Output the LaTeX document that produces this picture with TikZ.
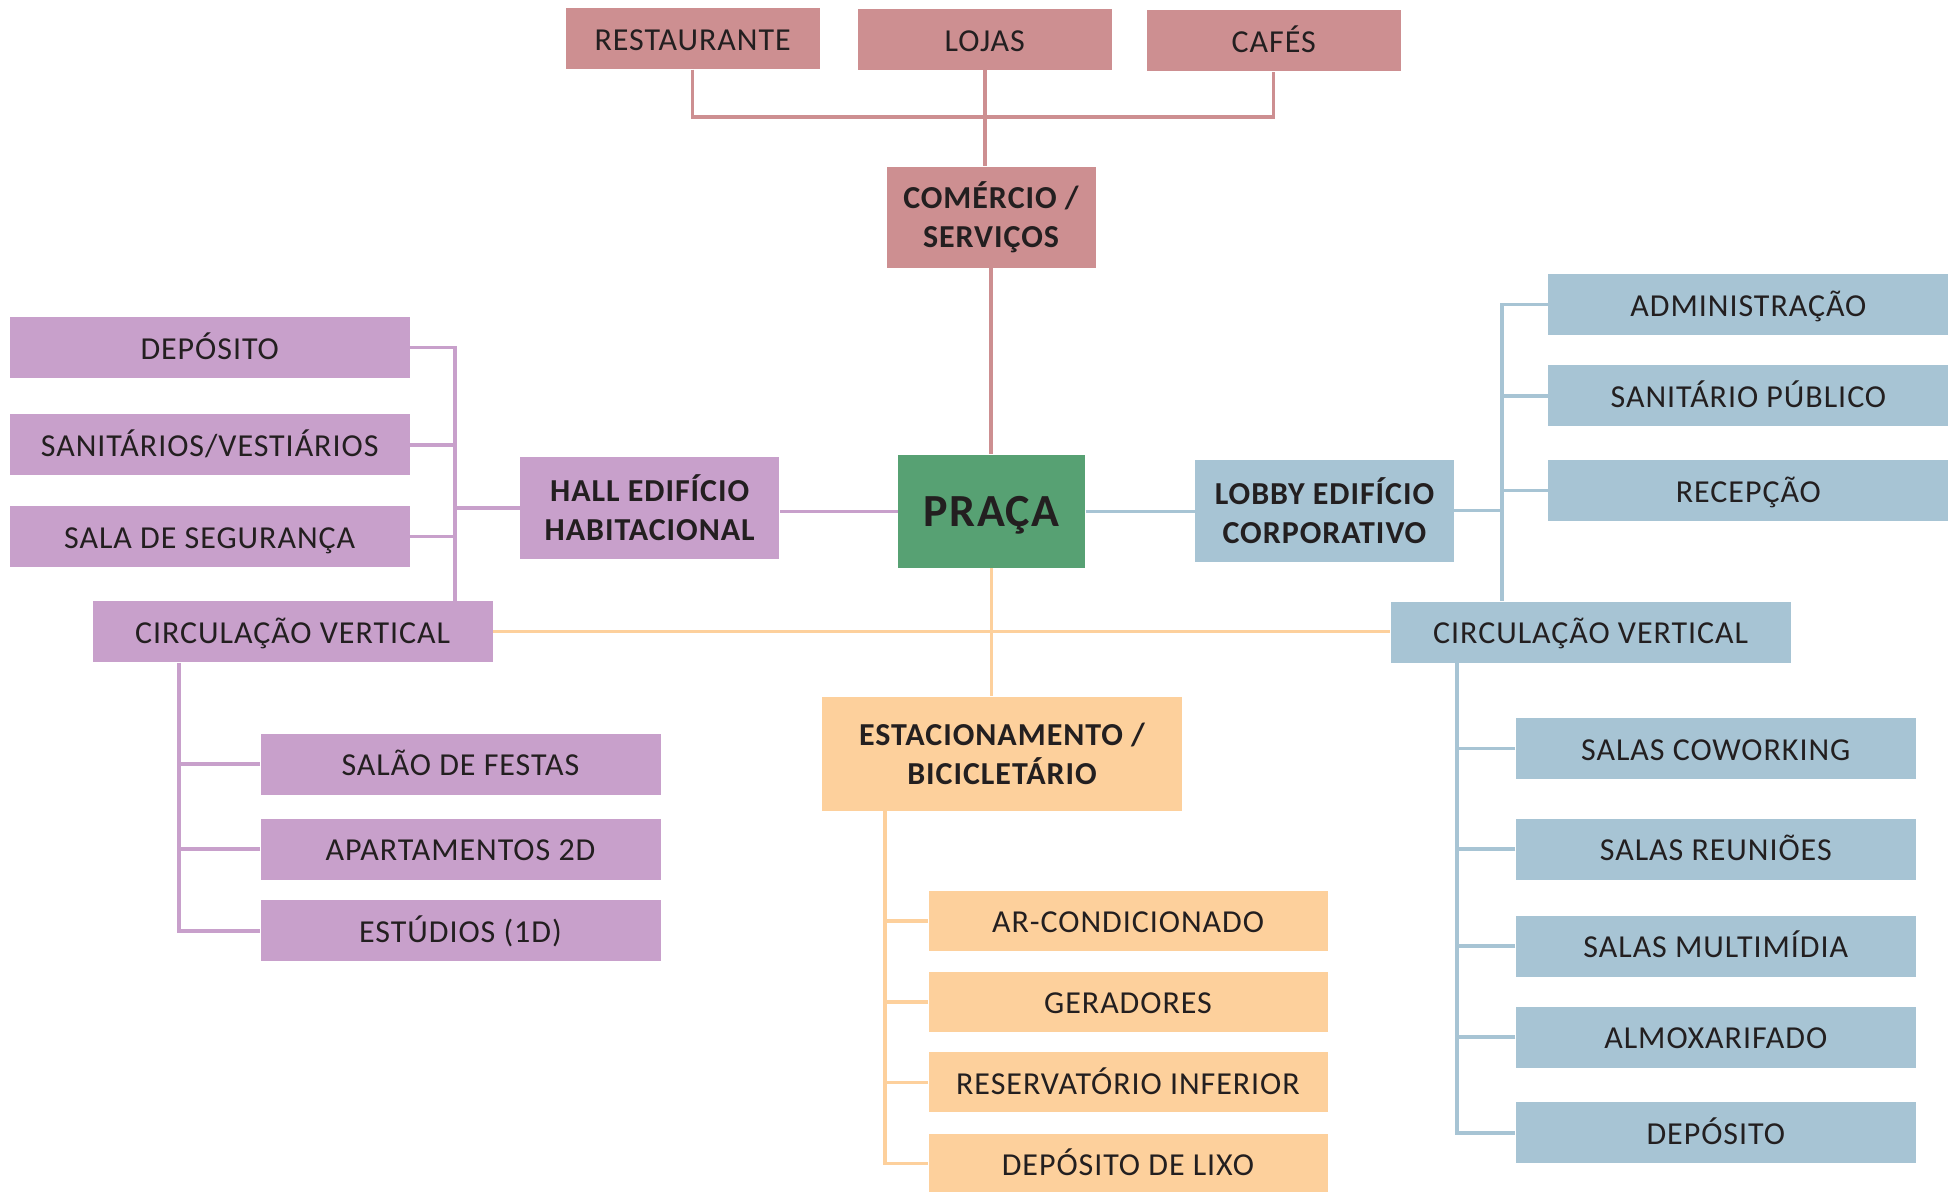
\documentclass[tikz,border=0pt]{standalone}
\usepackage{fontspec}
\setmainfont{Carlito}[LetterSpace=3]
\definecolor{pinkc}{HTML}{CD8F91}
\definecolor{purc}{HTML}{C8A0CB}
\definecolor{bluc}{HTML}{A7C4D4}
\definecolor{grnc}{HTML}{57A173}
\definecolor{orac}{HTML}{FDD09C}
\definecolor{txtc}{HTML}{231F20}
\begin{document}
\begin{tikzpicture}[x=0.5pt,y=-0.5pt,
  bx/.style={rectangle, inner sep=0pt, text=txtc, align=center,
    font=\fontsize{16}{19.5}\selectfont},
  one/.style={text height=11.8pt, text depth=0pt},
  bbx/.style={bx, font=\fontsize{16}{19.5}\selectfont\bfseries},
  small/.style={minimum width=200pt, minimum height=30.5pt},
  pkbox/.style={bx, one, fill=pinkc, minimum width=127pt, minimum height=30.5pt},
  pubox/.style={bx, one, fill=purc, small},
  blbox/.style={bx, one, fill=bluc, small},
  orbox/.style={bx, one, fill=orac, small},
  ln/.style={line width=1.7pt, line join=miter},
  pkline/.style={ln, draw=pinkc},
  puline/.style={ln, draw=purc},
  blline/.style={ln, draw=bluc},
  orline/.style={ln, draw=orac}]
\useasboundingbox (0,0) rectangle (1955,1192);

% top commerce
\node[pkbox] (rest) at (692.6,38.7) {RESTAURANTE};
\node[pkbox] (lojas) at (984.8,39.5) {LOJAS};
\node[pkbox] (cafes) at (1273.7,40.7) {CAFÉS};
\node[bbx, fill=pinkc, minimum width=104.5pt, minimum height=50.5pt] (comercio) at (991,217.3) {COMÉRCIO /\\SERVIÇOS};

% center
\node[bx, fill=grnc, minimum width=93.5pt, minimum height=56.5pt,
  text height=15.5pt, text depth=0pt,
  font=\fontsize{23}{26}\selectfont\bfseries] (praca) at (991.7,511.3) {PRAÇA};

% left: hall
\node[bbx, fill=purc, minimum width=129.5pt, minimum height=51pt] (hall) at (649.7,508) {HALL EDIFÍCIO\\HABITACIONAL};
\node[pubox] (dep) at (209.7,347.8) {DEPÓSITO};
\node[pubox] (sanvest) at (209.7,445) {SANITÁRIOS/VESTIÁRIOS};
\node[pubox] (salaseg) at (209.7,536.7) {SALA DE SEGURANÇA};
\node[pubox] (circL) at (292.6,631.7) {CIRCULAÇÃO VERTICAL};
\node[pubox] (salao) at (460.5,764) {SALÃO DE FESTAS};
\node[pubox] (apart) at (460.5,849) {APARTAMENTOS 2D};
\node[pubox] (estud) at (460.5,930.8) {ESTÚDIOS (1D)};

% right: lobby
\node[bbx, fill=bluc, minimum width=129.5pt, minimum height=51pt] (lobby) at (1324.5,510.8) {LOBBY EDIFÍCIO\\CORPORATIVO};
\node[blbox] (admin) at (1748.4,304.8) {ADMINISTRAÇÃO};
\node[blbox] (sanpub) at (1748.4,396) {SANITÁRIO PÚBLICO};
\node[blbox] (recep) at (1748.4,490.7) {RECEPÇÃO};
\node[blbox] (circR) at (1590.7,632) {CIRCULAÇÃO VERTICAL};
\node[blbox] (cowork) at (1715.8,748.4) {SALAS COWORKING};
\node[blbox] (reun) at (1715.8,849) {SALAS REUNIÕES};
\node[blbox] (multi) at (1715.8,946) {SALAS MULTIMÍDIA};
\node[blbox] (almox) at (1715.8,1037) {ALMOXARIFADO};
\node[blbox] (depR) at (1715.8,1132.8) {DEPÓSITO};

% bottom: parking
\node[bbx, fill=orac, minimum width=180pt, minimum height=57pt] (estac) at (1002,753.8) {ESTACIONAMENTO /\\BICICLETÁRIO};
\node[orbox, minimum width=199.5pt, minimum height=30pt] (ar) at (1128,920.8) {AR-CONDICIONADO};
\node[orbox, minimum width=199.5pt, minimum height=30pt] (ger) at (1128,1002) {GERADORES};
\node[orbox, minimum width=199.5pt, minimum height=30pt] (res) at (1128,1082.4) {RESERVATÓRIO INFERIOR};
\node[orbox, minimum width=199.5pt, minimum height=30pt] (lixo) at (1128,1163.5) {DEPÓSITO DE LIXO};

% coordinates for trunks
\coordinate (pbar) at (984.8,117);
\coordinate (lt) at (455,347.8);
\coordinate (rt) at (1502,304.8);
\coordinate (lb) at (179,0);
\coordinate (ob) at (885,0);
\coordinate (rb) at (1457,0);

% pink connectors
\draw[pkline] (rest.south) |- (pbar) -| (cafes.south);
\draw[pkline] (lojas.south) -- (lojas.south |- comercio.north);
\draw[pkline] (comercio.south) -- (comercio.south |- praca.north);

% purple connectors
\draw[puline] (praca.west) -- (praca.west -| hall.east);
\draw[puline] (dep.east) -- (lt) -- (lt |- circL.north);
\draw[puline] (sanvest.east) -- (sanvest.east -| lt);
\draw[puline] (salaseg.east) -- (salaseg.east -| lt);
\draw[puline] (hall.west) -- (hall.west -| lt);
\draw[puline] (circL.south -| lb) |- (estud.west);
\draw[puline] (salao.west) -- (salao.west -| lb);
\draw[puline] (apart.west) -- (apart.west -| lb);

% blue connectors
\draw[blline] (praca.east) -- (praca.east -| lobby.west);
\draw[blline] (admin.west) -- (rt) -- (rt |- circR.north);
\draw[blline] (sanpub.west) -- (sanpub.west -| rt);
\draw[blline] (recep.west) -- (recep.west -| rt);
\draw[blline] (lobby.east) -- (lobby.east -| rt);
\draw[blline] (circR.south -| rb) |- (depR.west);
\draw[blline] (cowork.west) -- (cowork.west -| rb);
\draw[blline] (reun.west) -- (reun.west -| rb);
\draw[blline] (multi.west) -- (multi.west -| rb);
\draw[blline] (almox.west) -- (almox.west -| rb);

% orange connectors
\draw[orline] (circL.east) -- (circL.east -| circR.west);
\draw[orline] (praca.south) -- (praca.south |- estac.north);
\draw[orline] (estac.south -| ob) |- (lixo.west);
\draw[orline] (ar.west) -- (ar.west -| ob);
\draw[orline] (ger.west) -- (ger.west -| ob);
\draw[orline] (res.west) -- (res.west -| ob);
\end{tikzpicture}
\end{document}
